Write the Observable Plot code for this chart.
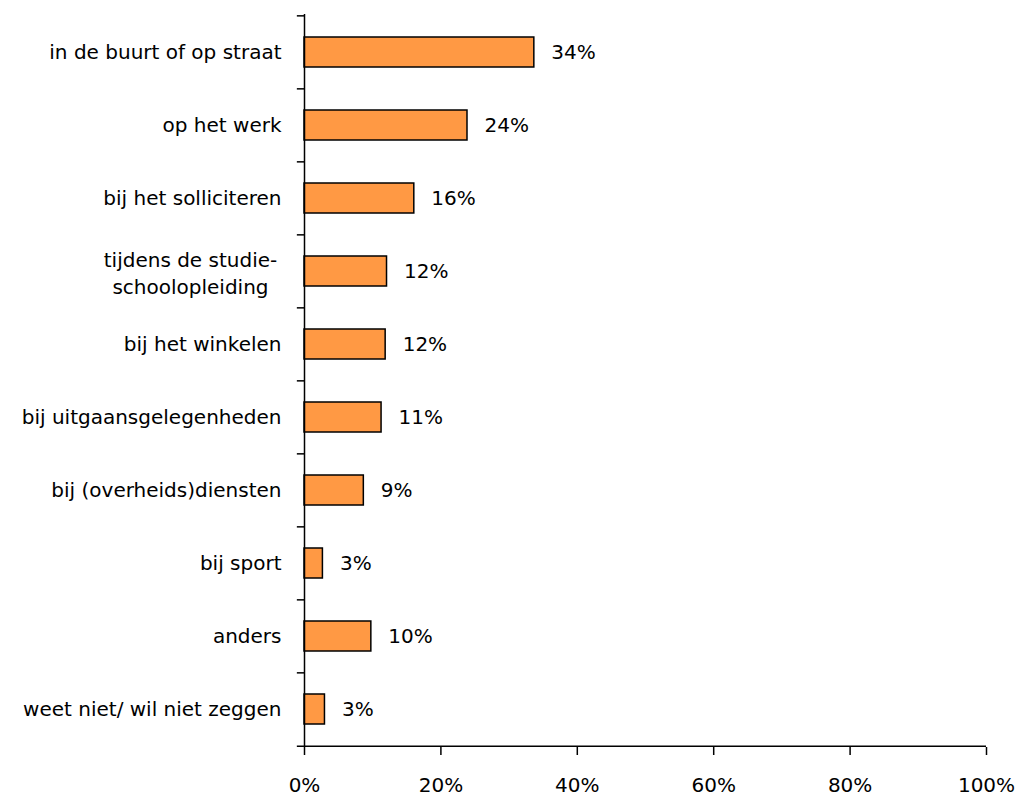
<!DOCTYPE html>
<html>
<head>
<meta charset="utf-8">
<script src="https://cdn.jsdelivr.net/npm/d3@7"></script>
<script src="https://cdn.jsdelivr.net/npm/@observablehq/plot@0.6"></script>
<style>
  html, body { margin: 0; padding: 0; background: #fff; }
  #chart svg { display: block; }
</style>
</head>
<body>
<div id="chart"></div>
<script>
const categories = [
  "in de buurt of op straat",
  "op het werk",
  "bij het solliciteren",
  "tijdens de studie-\nschoolopleiding",
  "bij het winkelen",
  "bij uitgaansgelegenheden",
  "bij (overheids)diensten",
  "bij sport",
  "anders",
  "weet niet/ wil niet zeggen"
];
const values = [33.7, 23.9, 16.1, 12.1, 11.9, 11.3, 8.7, 2.7, 9.8, 3.0];
const valueLabels = ["34%", "24%", "16%", "12%", "12%", "11%", "9%", "3%", "10%", "3%"];
const xTicks = [0, 20, 40, 60, 80, 100];

const data = categories.map((c, i) => ({category: c, value: values[i], label: valueLabels[i]}));

const W = 1019, H = 796;
const mTop = 14, mBottom = 49, mLeft = 304, mRight = 33;
const step = (H - mTop - mBottom) / categories.length;
const font = "DejaVu Sans, Verdana, sans-serif";
const fs = 20;

const single = data.filter(d => !d.category.includes("\n"));
const multi = data.filter(d => d.category.includes("\n"));

const chart = Plot.plot({
  width: W,
  height: H,
  marginTop: mTop,
  marginBottom: mBottom,
  marginLeft: mLeft,
  marginRight: mRight,
  style: {fontFamily: font, fontSize: fs + "px", color: "#000", background: "#fff", overflow: "visible"},
  x: {domain: [0, 100], axis: null},
  y: {domain: categories, paddingInner: 0.59, paddingOuter: 0.295, axis: null},
  marks: [
    Plot.barX(data, {y: "category", x: "value", fill: "#FF9944", stroke: "#000", strokeWidth: 1.5}),
    Plot.ruleX([0], {stroke: "#000", strokeWidth: 1.5}),
    Plot.ruleY([categories[categories.length - 1]], {x1: -1.05, x2: 100, dy: step / 2, stroke: "#000", strokeWidth: 1.5}),
    Plot.ruleY(categories, {x1: -1.05, x2: 0, dy: -step / 2, stroke: "#000", strokeWidth: 1.5}),
    Plot.axisX(xTicks, {anchor: "bottom", label: null, tickSize: 8, tickPadding: 22, tickFormat: d => d + "%", stroke: "#000", strokeWidth: 1.5, fontSize: fs, fill: "#000"}),
    Plot.text(single, {y: "category", x: 0, text: "category", textAnchor: "end", dx: -23, fontSize: fs, fill: "#000"}),
    Plot.text(multi, {y: "category", x: 0, text: "category", textAnchor: "middle", dx: -114, lineHeight: 1.35, fontSize: fs, fill: "#000"}),
    Plot.text(data, {y: "category", x: "value", text: "label", textAnchor: "start", dx: 17, fontSize: fs, fill: "#000"})
  ]
});
document.getElementById("chart").appendChild(chart);
</script>
</body>
</html>
